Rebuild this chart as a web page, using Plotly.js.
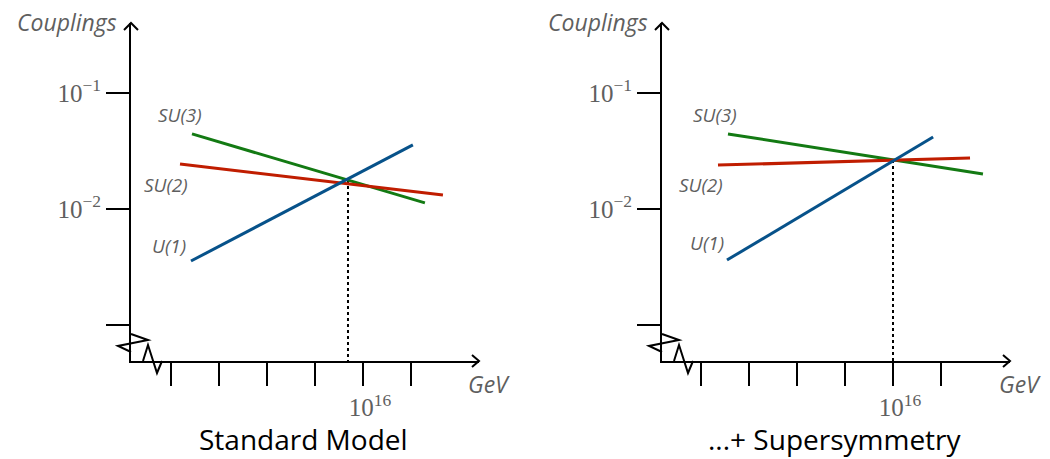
<!DOCTYPE html>
<html>
<head>
<meta charset="utf-8">
<script src="https://cdn.plot.ly/plotly-3.0.1.min.js"></script>
<style>html,body{margin:0;padding:0;background:#fff;}#chart{width:1050px;height:459px;}</style>
</head>
<body>
<div id="chart"></div>
<script>
// ---- data (energies in GeV, couplings dimensionless) ----
const panels = ["Standard Model", "...+ Supersymmetry"];
const groups = ["SU(3)", "SU(2)", "U(1)"];

// Standard Model: start/end of each running coupling
const smEnergy_SU3 = [7.5e8, 3.8e18];
const smCoupling_SU3 = [0.0444, 0.0113];
const smEnergy_SU2 = [2.37e8, 2.14e19];
const smCoupling_SU2 = [0.0244, 0.0132];
const smEnergy_U1 = [6.8e8, 1.2e18];
const smCoupling_U1 = [0.00356, 0.0357];
const smDropEnergy = [2.37e15, 2.37e15];
const smDropCoupling = [0.0178, 1e-4];

// Supersymmetry
const susyEnergy_SU3 = [1.33e9, 5.6e19];
const susyCoupling_SU3 = [0.0444, 0.0200];
const susyEnergy_SU2 = [5.1e8, 1.62e19];
const susyCoupling_SU2 = [0.0239, 0.0275];
const susyEnergy_U1 = [1.21e9, 4.7e17];
const susyCoupling_U1 = [0.00363, 0.0418];
const susyDropEnergy = [1e16, 1e16];
const susyDropCoupling = [0.0264, 1e-4];

// ticks (labelled ticks + unlabelled ticks)
const xTickVals = [1e16];
const xTickText = ["10<sup>16</sup>"];
const xPlainTicks = [1e8, 1e10, 1e12, 1e14, 1e18];
const yTickVals = [1e-1, 1e-2];
const yTickText = ["10<sup>\u22121</sup>", "10<sup>\u22122</sup>"];
const yPlainTicks = [1e-3];

// ---- styling ----
const W = 1050, H = 459;
const px = v => v / W;
const py = v => 1 - v / H;
const colors = {"SU(3)": "#137a13", "SU(2)": "#c01d00", "U(1)": "#07528a"};
const labelGray = "#5f5f5f";
const sansFont = "'Open Sans', Lato, sans-serif";
const serifFont = "'Liberation Serif', 'DejaVu Serif', serif";

function lineTrace(x, y, name, xa, ya) {
  return {x: x, y: y, type: "scatter", mode: "lines", name: name,
    xaxis: xa, yaxis: ya, hoverinfo: "skip",
    line: {color: colors[name], width: 3}};
}
function dropTrace(x, y, xa, ya) {
  return {x: x, y: y, type: "scatter", mode: "lines", xaxis: xa, yaxis: ya,
    hoverinfo: "skip", line: {color: "#000", width: 2, dash: "dot"}};
}

const traces = [
  dropTrace(smDropEnergy, smDropCoupling, "x", "y"),
  lineTrace(smEnergy_SU3, smCoupling_SU3, "SU(3)", "x", "y"),
  lineTrace(smEnergy_SU2, smCoupling_SU2, "SU(2)", "x", "y"),
  lineTrace(smEnergy_U1, smCoupling_U1, "U(1)", "x", "y"),
  dropTrace(susyDropEnergy, susyDropCoupling, "x2", "y2"),
  lineTrace(susyEnergy_SU3, susyCoupling_SU3, "SU(3)", "x2", "y2"),
  lineTrace(susyEnergy_SU2, susyCoupling_SU2, "SU(2)", "x2", "y2"),
  lineTrace(susyEnergy_U1, susyCoupling_U1, "U(1)", "x2", "y2")
];

// axis geometry (pixels)
const axisLeft = [131, 662];
const axisBottom = 361, axisTop = 23, axisLen = 348;
const decadeX = 24, decadeY = 116;
const tickStyle = {ticks: "outside", ticklen: 23, tickwidth: 2, tickcolor: "#000"};

function xAxis(i, tick16Px) {
  const lo = 16 - (tick16Px - axisLeft[i]) / decadeX;
  return Object.assign({
    type: "log", domain: [px(axisLeft[i]), px(axisLeft[i] + axisLen)],
    range: [lo, lo + axisLen / decadeX], anchor: i ? "y2" : "y",
    showline: true, linecolor: "#000", linewidth: 2,
    tickmode: "array", tickvals: xTickVals, ticktext: xTickText, ticklabelshift: 7,
    minor: Object.assign({tickmode: "array", tickvals: xPlainTicks, showgrid: false}, tickStyle),
    tickfont: {family: serifFont, size: 25, color: labelGray},
    showgrid: false, zeroline: false, fixedrange: true
  }, tickStyle);
}
function yAxis(i) {
  const hi = -1 + (93 - axisTop) / decadeY;
  const lo = -1 - (axisBottom - 93) / decadeY;
  return Object.assign({
    type: "log", domain: [py(axisBottom), py(axisTop)], range: [lo, hi],
    anchor: i ? "x2" : "x",
    showline: true, linecolor: "#000", linewidth: 2,
    tickmode: "array", tickvals: yTickVals, ticktext: yTickText,
    minor: Object.assign({tickmode: "array", tickvals: yPlainTicks, showgrid: false}, tickStyle),
    tickfont: {family: serifFont, size: 25, color: labelGray},
    showgrid: false, zeroline: false, fixedrange: true
  }, tickStyle);
}

function pathPx(points) {
  return points.map((p, k) => (k ? "L" : "M") + px(p[0]).toFixed(5) + "," + py(p[1]).toFixed(5)).join(" ");
}
const shapes = [];
axisLeft.forEach(ax => {
  const off = ax - 131;
  const xEnd = ax + axisLen;
  const deco = [
    [[ax - 7, axisTop + 7], [ax, axisTop], [ax + 7, axisTop + 7]],
    [[xEnd - 7, axisBottom - 6], [xEnd, axisBottom], [xEnd - 7, axisBottom + 6]],
    [[131 + off, 334], [148 + off, 340], [118 + off, 346], [131 + off, 352]],
    [[143 + off, 361], [148 + off, 345], [157 + off, 373], [162 + off, 361]]
  ];
  deco.forEach(pts => shapes.push({type: "path", xref: "paper", yref: "paper",
    path: pathPx(pts), line: {color: "#000", width: 2}}));
});

function ann(text, x, y, size, color, opts) {
  return Object.assign({text: text, xref: "paper", yref: "paper", x: px(x), y: py(y),
    xanchor: "center", yanchor: "middle", showarrow: false, borderpad: 0,
    font: {family: sansFont, size: size, color: color}}, opts || {});
}
const annotations = [];
const labelPos = [
  {"SU(3)": [180, 115], "SU(2)": [166, 185], "U(1)": [169, 246]},
  {"SU(3)": [715, 115], "SU(2)": [701, 185], "U(1)": [707, 243]}
];
[0, 1].forEach(i => {
  const off = axisLeft[i] - 131;
  annotations.push(ann("<i>Couplings</i>", 118 + off, 22, 23, labelGray, {xanchor: "right"}));
  annotations.push(ann("<i>GeV</i>", 489 + off, 384, 23, labelGray));
  groups.forEach(g => annotations.push(ann("<i>" + g + "</i>", labelPos[i][g][0], labelPos[i][g][1], 19, labelGray)));
});
annotations.push(ann(panels[0], 303, 459, 28, "#000", {yanchor: "bottom"}));
annotations.push(ann(panels[1], 835, 459, 28, "#000", {yanchor: "bottom"}));

const layout = {
  width: W, height: H, margin: {l: 0, r: 0, t: 0, b: 0},
  paper_bgcolor: "#fff", plot_bgcolor: "rgba(0,0,0,0)", showlegend: false,
  xaxis: xAxis(0, 363), yaxis: yAxis(0),
  xaxis2: xAxis(1, 893), yaxis2: yAxis(1),
  shapes: shapes, annotations: annotations
};
Plotly.newPlot("chart", traces, layout, {staticPlot: true, displayModeBar: false});
</script>
</body>
</html>
